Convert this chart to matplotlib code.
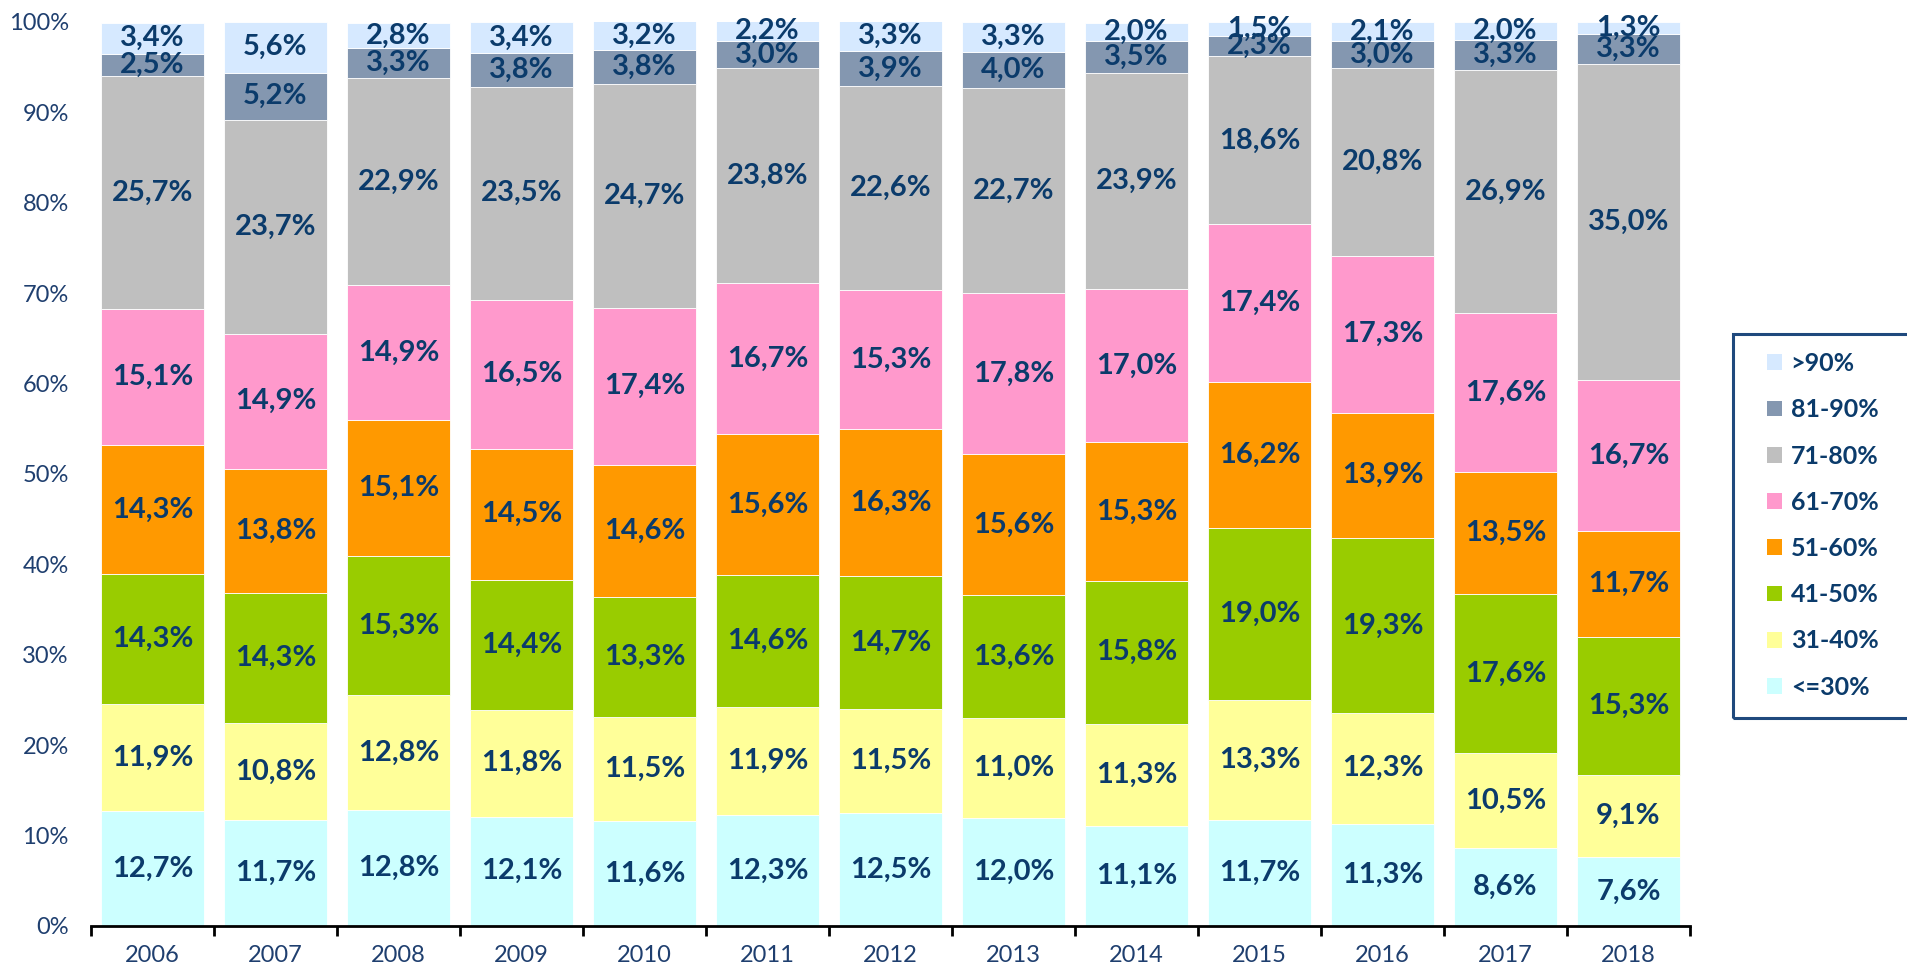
import numpy as np
import matplotlib.pyplot as plt
from matplotlib.patches import Rectangle
from matplotlib.ticker import FixedLocator, NullFormatter

# Годы и группы
years = ['2006', '2007', '2008', '2009', '2010', '2011', '2012',
         '2013', '2014', '2015', '2016', '2017', '2018']
groups = ['<=30%', '31-40%', '41-50%', '51-60%', '61-70%', '71-80%', '81-90%', '>90%']
colors = ['#CCFFFF', '#FFFF99', '#99CC00', '#FF9900', '#FF99CC', '#BFBFBF', '#8497B0', '#D6E9FF']

# Доли по группам (снизу вверх), %
le30 = [12.7, 11.7, 12.8, 12.1, 11.6, 12.3, 12.5, 12.0, 11.1, 11.7, 11.3, 8.6, 7.6]
g31_40 = [11.9, 10.8, 12.8, 11.8, 11.5, 11.9, 11.5, 11.0, 11.3, 13.3, 12.3, 10.5, 9.1]
g41_50 = [14.3, 14.3, 15.3, 14.4, 13.3, 14.6, 14.7, 13.6, 15.8, 19.0, 19.3, 17.6, 15.3]
g51_60 = [14.3, 13.8, 15.1, 14.5, 14.6, 15.6, 16.3, 15.6, 15.3, 16.2, 13.9, 13.5, 11.7]
g61_70 = [15.1, 14.9, 14.9, 16.5, 17.4, 16.7, 15.3, 17.8, 17.0, 17.4, 17.3, 17.6, 16.7]
g71_80 = [25.7, 23.7, 22.9, 23.5, 24.7, 23.8, 22.6, 22.7, 23.9, 18.6, 20.8, 26.9, 35.0]
g81_90 = [2.5, 5.2, 3.3, 3.8, 3.8, 3.0, 3.9, 4.0, 3.5, 2.3, 3.0, 3.3, 3.3]
gt90 = [3.4, 5.6, 2.8, 3.4, 3.2, 2.2, 3.3, 3.3, 2.0, 1.5, 2.1, 2.0, 1.3]

series = [le30, g31_40, g41_50, g51_60, g61_70, g71_80, g81_90, gt90]

plt.rcParams['font.family'] = ['Lato', 'DejaVu Sans']
label_color = '#0B3B6B'
tick_color = '#1F3F6F'

W, H = 1908, 967
fig = plt.figure(figsize=(W / 100, H / 100), dpi=100)
ax = fig.add_axes([91 / W, 41 / H, 1599 / W, 904 / H])

x = np.arange(len(years))
bottom = np.zeros(len(years))
for vals, col, name in zip(series, colors, groups):
    vals = np.array(vals)
    ax.bar(x, vals, width=0.84, bottom=bottom, color=col, label=name,
           edgecolor='white', linewidth=0.6)
    for xi, b, v in zip(x, bottom, vals):
        ax.text(xi, b + v / 2, f'{v:.1f}%'.replace('.', ','), ha='center', va='center',
                fontsize=21, fontweight='bold', color=label_color)
    bottom += vals

ax.set_xlim(-0.5, len(years) - 0.5)
ax.set_ylim(0, 100)
ax.set_yticks(np.arange(0, 101, 10))
ax.set_yticklabels([f'{v}%' for v in range(0, 101, 10)])
ax.tick_params(axis='y', length=0, pad=16, labelsize=17, labelcolor=tick_color)

# Деления оси X на границах категорий, подписи по центру
ax.xaxis.set_major_locator(FixedLocator(np.arange(-0.5, len(years), 1)))
ax.xaxis.set_major_formatter(NullFormatter())
ax.xaxis.set_minor_locator(FixedLocator(x))
ax.set_xticklabels(years, minor=True)
ax.tick_params(axis='x', which='major', length=7, width=2, direction='out', color='black')
ax.tick_params(axis='x', which='minor', length=0, pad=14, labelsize=17, labelcolor=tick_color)

for s in ['top', 'right', 'left']:
    ax.spines[s].set_visible(False)
ax.spines['bottom'].set_linewidth(2)
ax.spines['bottom'].set_color('black')

# Рамка легенды (правый край уходит за пределы рисунка)
fig.patches.append(Rectangle((1733 / W, 1 - 718 / H), 220 / W, 384 / H,
                             transform=fig.transFigure, fill=False,
                             edgecolor='#1F497D', linewidth=2.2))

handles, labels = ax.get_legend_handles_labels()
leg = fig.legend(handles[::-1], labels[::-1], loc='upper left',
                 bbox_to_anchor=(1767 / W, 1 - 352 / H),
                 frameon=False, prop={'size': 18, 'weight': 'bold'},
                 handlelength=0.6, handleheight=0.6, handletextpad=0.35,
                 labelspacing=0.93, borderpad=0, borderaxespad=0)
for t in leg.get_texts():
    t.set_color(label_color)
for h in leg.legend_handles:
    h.set_edgecolor('none')

fig.savefig('out.png', dpi=100)
